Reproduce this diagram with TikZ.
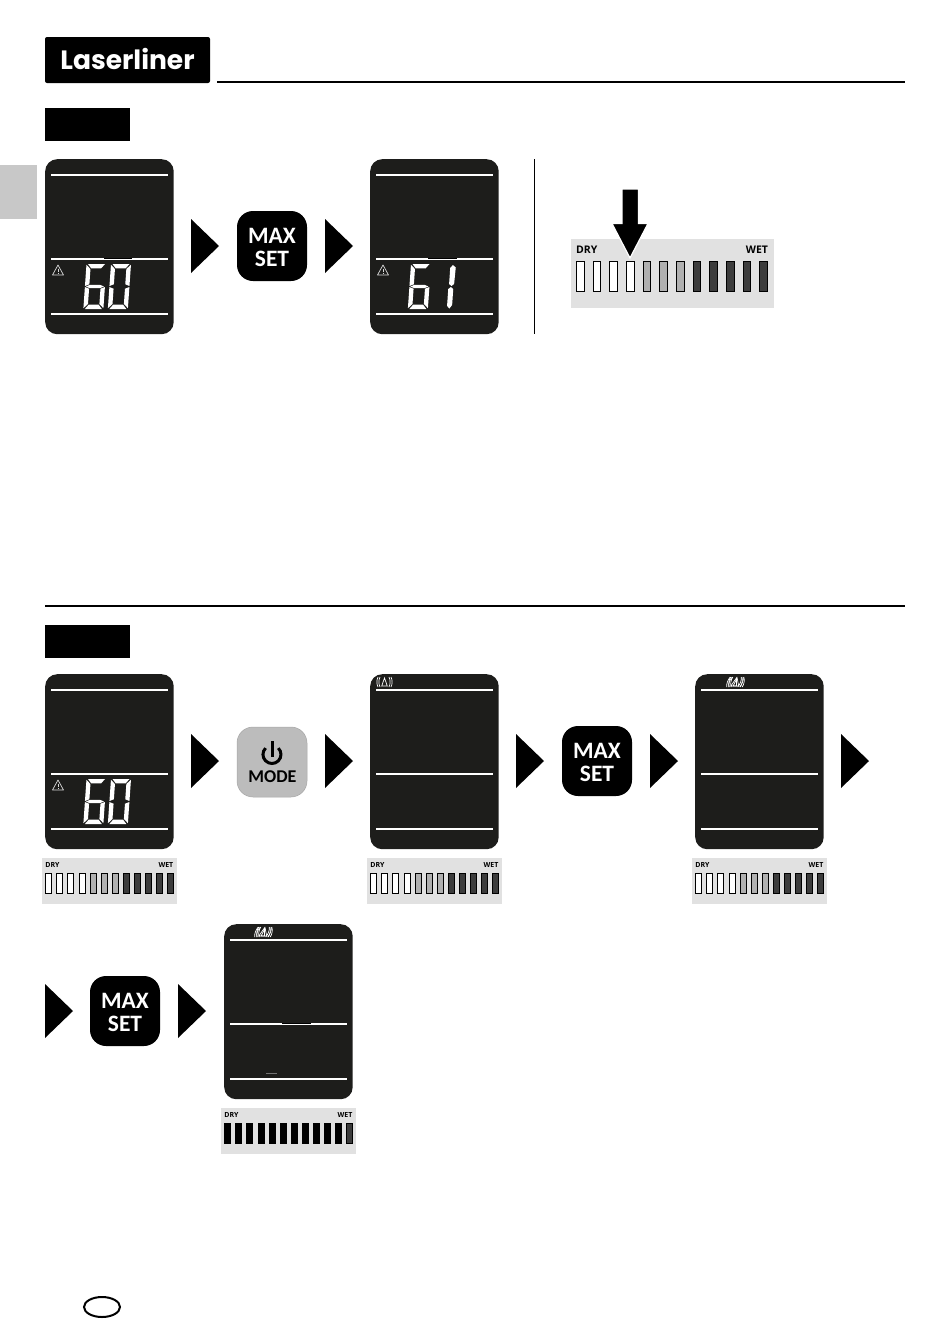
\documentclass[tikz,border=0pt]{standalone}
\usepackage{xcolor}
\usepackage{fontspec}
\usepackage{tikz}
\newfontfamily\logofont{Poppins}
\newfontfamily\keyfont{Carlito}
\newfontfamily\stripfont{Open Sans}

\definecolor{lcdblack}{HTML}{1D1D1B}
\definecolor{stripgrey}{HTML}{E1E1E1}
\definecolor{tabgrey}{HTML}{C8C8C8}
\definecolor{modegrey}{HTML}{BCBCBC}
\definecolor{barmid}{HTML}{B0B0B0}
\definecolor{bardark}{HTML}{3C3C3C}

\tikzset{
  lcdbody/.style={fill=lcdblack, rounded corners=12pt, minimum width=128.5pt, minimum height=175pt, inner sep=0pt},
  lcdrule/.style={white, line width=2pt},
  lcdseg/.style={fill=white},
  keybox/.style={rounded corners=16pt, minimum width=70pt, minimum height=70pt, inner sep=0pt, align=center},
  maxkey/.style={keybox, fill=black, text=white, font=\keyfont\bfseries\fontsize{23.5}{23}\selectfont},
  modekey/.style={keybox, fill=modegrey, draw=black!35, line width=.5pt},
  tagbox/.style={fill=black, minimum width=85pt, minimum height=33pt, inner sep=0pt},
  steptip/.style={fill=black},
  striplabel/.style={font=\stripfont\bfseries\fontsize{7}{7}\selectfont, inner sep=0pt, transform shape}
}

\def\sega{(1.5,0) -- (18.5,0) -- (15,4.3) -- (5,4.3) -- cycle}
\def\segb{(20,.8) -- (15.7,5) -- (15.7,20.3) -- (20,22) -- cycle}
\def\segc{(20,23) -- (15.7,24.7) -- (15.7,40) -- (20,44.2) -- cycle}
\def\segd{(1.5,45) -- (5,40.7) -- (15,40.7) -- (18.5,45) -- cycle}
\def\sege{(0,23) -- (4.3,24.7) -- (4.3,40) -- (0,44.2) -- cycle}
\def\segf{(0,.8) -- (4.3,5) -- (4.3,20.3) -- (0,22) -- cycle}
\def\segg{(1,22.5) -- (5,20.8) -- (15,20.8) -- (19,22.5) -- (15,24.2) -- (5,24.2) -- cycle}
\def\segi{(42,1) -- (45,3.5) -- (44.5,20) -- (42,22) -- (39.5,20) -- (39.5,4) -- cycle}
\def\segj{(41.5,23) -- (44,25) -- (44,41) -- (41.5,44.5) -- (39,42) -- (39,25) -- cycle}

\def\barsmid{white,white,white,white,barmid,barmid,barmid,bardark,bardark,bardark,bardark,bardark}
\def\barsfull{black,black,black,black,black,black,black,black,black,black,black,bardark}

\newcommand{\maxlabel}{\raisebox{-1pt}[\height][\depth]{MAX}\\\raisebox{-1pt}[\height][\depth]{SET}}
\newcommand{\lcdpanel}[3]{
  \node[lcdbody, anchor=north west] (#1) at (#2,#3) {};
  \foreach \ry in {15.5,100.2,155.2}
    \draw[lcdrule] (#2+6,#3+\ry) -- (#2+123,#3+\ry);
}
\newcommand{\lcddigits}[3]{
  \begin{scope}[shift={(#1,#2)}, xslant=0.07]
    \foreach \sg in {#3} \fill[lcdseg] \sg;
  \end{scope}
}
\newcommand{\warnsign}[2]{
  \draw[white!85!black, line width=.7pt, line join=round] (#1,#2-5) -- (#1+5.5,#2+5) -- (#1-5.5,#2+5) -- cycle;
  \draw[white!85!black, line width=.9pt] (#1,#2-1.5) -- (#1,#2+2) (#1,#2+2.8) -- (#1,#2+4);
}
\newcommand{\waveicon}[3]{
  \begin{scope}[shift={(#1,#2)}, xslant=#3, white, line width=.7pt]
    \draw (-2.8,4) -- (0,-4) -- (2.8,4) -- cycle;
    \draw (-4.5,-5) .. controls (-6,-2) and (-6,2) .. (-4.5,5);
    \draw (-6.5,-5) .. controls (-8,-2) and (-8,2) .. (-6.5,5);
    \draw (4.5,-5) .. controls (6,-2) and (6,2) .. (4.5,5);
    \draw (6.5,-5) .. controls (8,-2) and (8,2) .. (6.5,5);
  \end{scope}
}
\newcommand{\levelstrip}[6]{
  \begin{scope}[shift={(#2,#3)}, scale=#4]
    \fill[stripgrey] (0,0) rectangle (135,46);
    \node[striplabel, anchor=west] (#1dry) at (3.2,7) {DRY};
    \node[striplabel, anchor=east] (#1wet) at (131.5,7) {WET};
    \foreach \bcol [count=\i] in #6
      \filldraw[fill=\bcol, draw=black, line width=1pt] (3.7+\i*11.1-11.1,15) rectangle +(#5,20);
  \end{scope}
}

\begin{document}
\begin{tikzpicture}[x=1pt, y=-1pt]
\useasboundingbox (0,0) rectangle (950,1344);

\node[fill=black, rounded corners=2pt, minimum width=165pt, minimum height=46pt, inner sep=0pt,
  text=white, font=\logofont\bfseries\fontsize{26.5}{26.5}\selectfont] (logo) at (127.5,60) {\raisebox{1pt}[\height][\depth]{Laserliner}};
\draw[line width=2pt] (217,82) -- (905,82);
\node[tagbox] (tagtop) at (87.5,124.5) {};
\fill[tabgrey] (0,165) rectangle (37,219);

\lcdpanel{lcda}{45}{159}
\lcdpanel{lcdb}{370}{159}
\draw[black, line width=.6pt] (104,258) -- (132,258) (428,258) -- (457,258);
\warnsign{58}{270}
\warnsign{383}{270}
\lcddigits{86.5}{264}{\sega,\segf,\segg,\sege,\segd,\segc}
\lcddigits{111}{264}{\sega,\segb,\segc,\segd,\sege,\segf}
\lcddigits{411}{264}{\sega,\segf,\segg,\sege,\segd,\segc,\segi,\segj}

\foreach \ax/\ay in {191/246,325/246,191/761,325/761,516/761,650/761,841/761,45/1011,178/1011}
  \fill[steptip] (\ax,\ay-27) -- (\ax+28,\ay) -- (\ax,\ay+27) -- cycle;

\node[maxkey] (maxa) at (272,246) {\maxlabel};
\draw[line width=1pt] (534.5,159) -- (534.5,334);

\levelstrip{big}{571}{239}{1.5}{5.1}{\barsmid}
\filldraw[fill=black, draw=white, line width=1.2pt] (622,189) -- (638.5,189) -- (638.5,223.5) -- (648,223.5) -- (630,258) -- (612,223.5) -- (622,223.5) -- cycle;

\draw[line width=2pt] (45,605.5) -- (905,605.5);
\node[tagbox] (tagmid) at (87.5,641.5) {};

\lcdpanel{lcdc}{45}{674}
\lcdpanel{lcdd}{370}{674}
\lcdpanel{lcde}{695}{674}
\lcdpanel{lcdf}{224}{924}
\warnsign{58}{785}
\lcddigits{86.5}{779}{\sega,\segf,\segg,\sege,\segd,\segc}
\lcddigits{111}{779}{\sega,\segb,\segc,\segd,\sege,\segf}
\waveicon{384.5}{682}{0}
\waveicon{735}{682}{0.35}
\waveicon{736.5}{682}{0.15}
\waveicon{263}{932}{0.35}
\waveicon{264.5}{932}{0.15}
\draw[black, line width=1pt] (282,1023.7) -- (311,1023.7);
\draw[black!55, line width=.6pt] (266,1073.5) -- (277,1073.5);

\levelstrip{stripc}{42}{858}{1}{6}{\barsmid}
\levelstrip{stripd}{367}{858}{1}{6}{\barsmid}
\levelstrip{stripe}{692}{858}{1}{6}{\barsmid}
\levelstrip{stripf}{221}{1108}{1}{6}{\barsfull}

\node[modekey] (modekey) at (272,762) {};
\draw[line width=3pt] (265.6,748.1) arc (225:-45:9);
\draw[line width=3pt] (272,741) -- (272,757);
\node[font=\keyfont\bfseries\fontsize{18}{18}\selectfont, inner sep=0pt] (modelabel) at (272.5,776.5) {MODE};
\node[maxkey] (maxb) at (597,761) {\maxlabel};
\node[maxkey] (maxc) at (125,1011) {\maxlabel};

\draw[line width=2pt] (102,1307) ellipse [x radius=18, y radius=10];
\end{tikzpicture}
\end{document}
